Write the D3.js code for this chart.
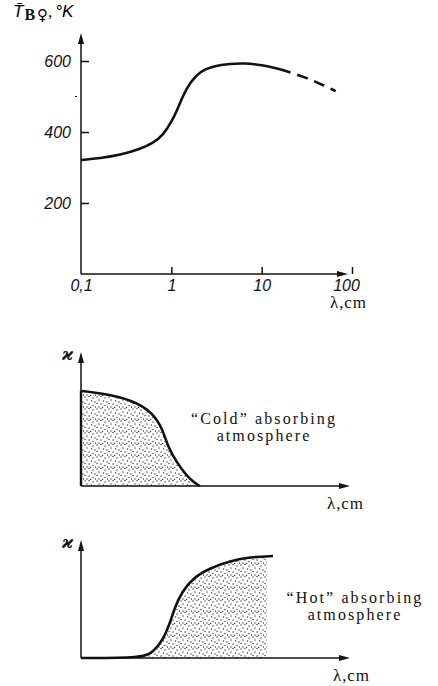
<!DOCTYPE html>
<html>
<head>
<meta charset="utf-8">
<script src="https://cdn.jsdelivr.net/npm/d3@7"></script>
<style>
  body { margin: 0; background: #fff; }
  svg { display: block; }
  .tick text { font-family: "Liberation Sans", sans-serif; font-style: italic; font-size: 16px; fill: #111; }
  .tick line { stroke: #111; stroke-width: 1.5; }
  .serif { font-family: "Liberation Serif", "DejaVu Serif", serif; fill: #111; }
</style>
</head>
<body>
<svg id="chart" width="438" height="686"></svg>
<script>
// top chart: brightness temperature of Venus vs wavelength
const tbLambda = [0.1, 0.163, 0.271, 0.453, 0.631, 0.815, 1.0, 1.166, 1.325, 1.626, 2.1, 2.93, 4.5, 6.3, 10, 16]
const tbValues = [321, 326, 335, 352, 369, 392, 428, 462, 499, 541, 572, 586, 592, 594, 589, 577]
const tbDashLambda = [16, 30, 50, 66]
const tbDashValues = [577, 555, 530, 515]
const yTicks = [200, 400, 600]
const xTicks = [0.1, 1, 10, 100]
const xTickLabels = ['0,1', '1', '10', '100']

// middle chart: "cold" absorbing atmosphere (relative units)
const coldX = [0, 7, 19.3, 26.8, 30.5, 32.3, 35.7, 40.5, 44.2]
const coldK = [70.9, 69.4, 64.2, 54.5, 41.8, 29.1, 17.2, 4.5, 0]

// bottom chart: "hot" absorbing atmosphere (relative units)
const hotX = [0, 23, 26.8, 30.5, 33.1, 34.9, 37.5, 41.6, 48, 55.4, 62.8, 71.4]
const hotK = [0, 0, 5.1, 15.3, 29.7, 43.2, 55.9, 67.8, 76.3, 82.2, 85.6, 86.4]
const hotFillEnd = 69.1

const svg = d3.select('#chart')
const ink = '#111'

// stipple pattern
const defs = svg.append('defs')
const pat = defs.append('pattern')
  .attr('id', 'dots')
  .attr('patternUnits', 'userSpaceOnUse')
  .attr('width', 12).attr('height', 12)
const dotPts = [[1, 1], [5, 0.5], [9, 2], [3, 4], [7.5, 5], [11, 6], [1, 7.5], [5, 8],
  [9, 9.5], [3, 11], [6.5, 11.5], [11.5, 11]]
pat.selectAll('circle').data(dotPts).enter().append('circle')
  .attr('cx', d => d[0]).attr('cy', d => d[1]).attr('r', 0.7)
  .attr('fill', '#333')

function arrowUp (g, x, y1, y2) {
  g.append('line').attr('x1', x).attr('x2', x).attr('y1', y1).attr('y2', y2 + 4)
    .attr('stroke', ink).attr('stroke-width', 1.5)
  g.append('path').attr('d', `M${x},${y2} L${x - 3},${y2 + 11} L${x + 3},${y2 + 11} Z`).attr('fill', ink)
}

function arrowRight (g, y, x1, x2) {
  g.append('line').attr('x1', x1).attr('x2', x2 - 4).attr('y1', y).attr('y2', y)
    .attr('stroke', ink).attr('stroke-width', 1.5)
  g.append('path').attr('d', `M${x2},${y} L${x2 - 11},${y - 3} L${x2 - 11},${y + 3} Z`).attr('fill', ink)
}

/**
 * top chart
 */
const x = d3.scaleLog().domain([0.1, 100]).range([81, 352])
const y = d3.scaleLinear().domain([0, 600]).range([274, 61])
const topG = svg.append('g')

topG.append('g')
  .attr('transform', `translate(${x(0.1)},0)`)
  .call(d3.axisLeft(y).tickValues(yTicks).tickSizeInner(-8).tickSizeOuter(0).tickPadding(10))
  .call(g => g.select('.domain').remove())

topG.append('g')
  .attr('transform', `translate(0,${y(0)})`)
  .call(d3.axisBottom(x).tickValues(xTicks).tickFormat((d, i) => xTickLabels[i])
    .tickSizeInner(-7).tickSizeOuter(0).tickPadding(6))
  .call(g => g.select('.domain').remove())
  .call(g => g.selectAll('.tick').filter(d => d === 0.1).select('line').remove())
  .call(g => g.selectAll('.tick').filter(d => d === 100).select('text').attr('dx', -6))
  .call(g => g.selectAll('.tick text').attr('font-size', 15))

// minor mark at 500 left of the axis
topG.append('line').attr('x1', x(0.1) - 6).attr('x2', x(0.1) - 4)
  .attr('y1', y(500)).attr('y2', y(500)).attr('stroke', ink).attr('stroke-width', 1.2)

arrowUp(topG, x(0.1), y(0), 33)
arrowRight(topG, y(0), x(0.1), 348)

const tbLine = d3.line().x(d => x(d[0])).y(d => y(d[1])).curve(d3.curveBasis)
topG.append('path')
  .attr('d', tbLine(d3.zip(tbLambda, tbValues)))
  .attr('fill', 'none').attr('stroke', ink).attr('stroke-width', 2.6)
topG.append('path')
  .attr('d', tbLine(d3.zip(tbDashLambda, tbDashValues)))
  .attr('fill', 'none').attr('stroke', ink).attr('stroke-width', 2.6)
  .attr('stroke-dasharray', '11,7')

// axis titles
const yt = topG.append('text').attr('x', 13).attr('y', 17)
yt.append('tspan').attr('font-family', 'Liberation Sans, sans-serif').attr('font-style', 'italic')
  .attr('font-size', 17).text('T̄')
yt.append('tspan').attr('class', 'serif').attr('font-weight', 'bold').attr('font-size', 16)
  .attr('dy', 3).attr('dx', 1).text('B')
yt.append('tspan').attr('font-family', 'DejaVu Sans, sans-serif').attr('font-size', 15)
  .attr('dx', 2).text('♀')
yt.append('tspan').attr('class', 'serif').attr('font-size', 17).attr('dy', -3).text(',')
yt.append('tspan').attr('font-family', 'Liberation Sans, sans-serif').attr('font-style', 'italic')
  .attr('font-size', 17).attr('dx', 3).text('°K')

topG.append('text').attr('class', 'serif').attr('x', 330).attr('y', 308)
  .attr('font-size', 17).attr('letter-spacing', 0.9).text('λ,cm')

/**
 * schematic absorption charts
 */
function schematic (yTop, yBase, xs, ks, fillEnd, label, labelX, labelY, lambdaX, lambdaY) {
  const sx = d3.scaleLinear().domain([0, 100]).range([81, 350])
  const sy = d3.scaleLinear().domain([0, 100]).range([yBase, yTop])
  const g = svg.append('g')
  const pts = d3.zip(xs, ks)
  const line = d3.line().x(d => sx(d[0])).y(d => sy(d[1])).curve(d3.curveBasis)

  // fill region: under the curve, clipped at fillEnd if given
  const clipId = `clip${yBase}`
  defs.append('clipPath').attr('id', clipId).append('rect')
    .attr('x', sx(0)).attr('y', yTop)
    .attr('width', (fillEnd == null ? sx(100) : sx(fillEnd)) - sx(0))
    .attr('height', yBase - yTop)
  const area = d3.area().x(d => sx(d[0])).y0(sy(0)).y1(d => sy(d[1])).curve(d3.curveBasis)
  g.append('path').attr('d', area(pts)).attr('fill', 'url(#dots)')
    .attr('clip-path', `url(#${clipId})`)

  if (fillEnd == null) {
    g.append('line').attr('x1', sx(0)).attr('x2', sx(0)).attr('y1', sy(0)).attr('y2', sy(ks[0]))
      .attr('stroke', ink).attr('stroke-width', 2.4)
  }

  arrowUp(g, sx(0), sy(0), yTop)
  arrowRight(g, sy(0), sx(0), sx(100))

  g.append('path').attr('d', line(pts))
    .attr('fill', 'none').attr('stroke', ink).attr('stroke-width', 2.6)

  g.append('text').attr('font-family', 'DejaVu Serif, serif').attr('font-style', 'italic')
    .attr('font-weight', 'bold').attr('font-size', 17).attr('x', 62).attr('y', yTop + 8)
    .attr('fill', ink).text('ϰ')

  const t = g.append('text').attr('class', 'serif').attr('font-size', 16)
    .attr('text-anchor', 'middle').attr('letter-spacing', 2.1)
  label.forEach((s, i) => {
    t.append('tspan').attr('x', labelX).attr('y', labelY + i * 17).text(s)
  })
  g.append('text').attr('class', 'serif').attr('x', lambdaX).attr('y', lambdaY)
    .attr('font-size', 17).attr('letter-spacing', 0.9).text('λ,cm')
}

schematic(352, 486, coldX, coldK, null,
  ['“Cold” absorbing', 'atmosphere'], 264, 424, 327, 509)
schematic(540, 658, hotX, hotK, hotFillEnd,
  ['“Hot” absorbing', 'atmosphere'], 355, 603, 333, 681)
</script>
</body>
</html>
